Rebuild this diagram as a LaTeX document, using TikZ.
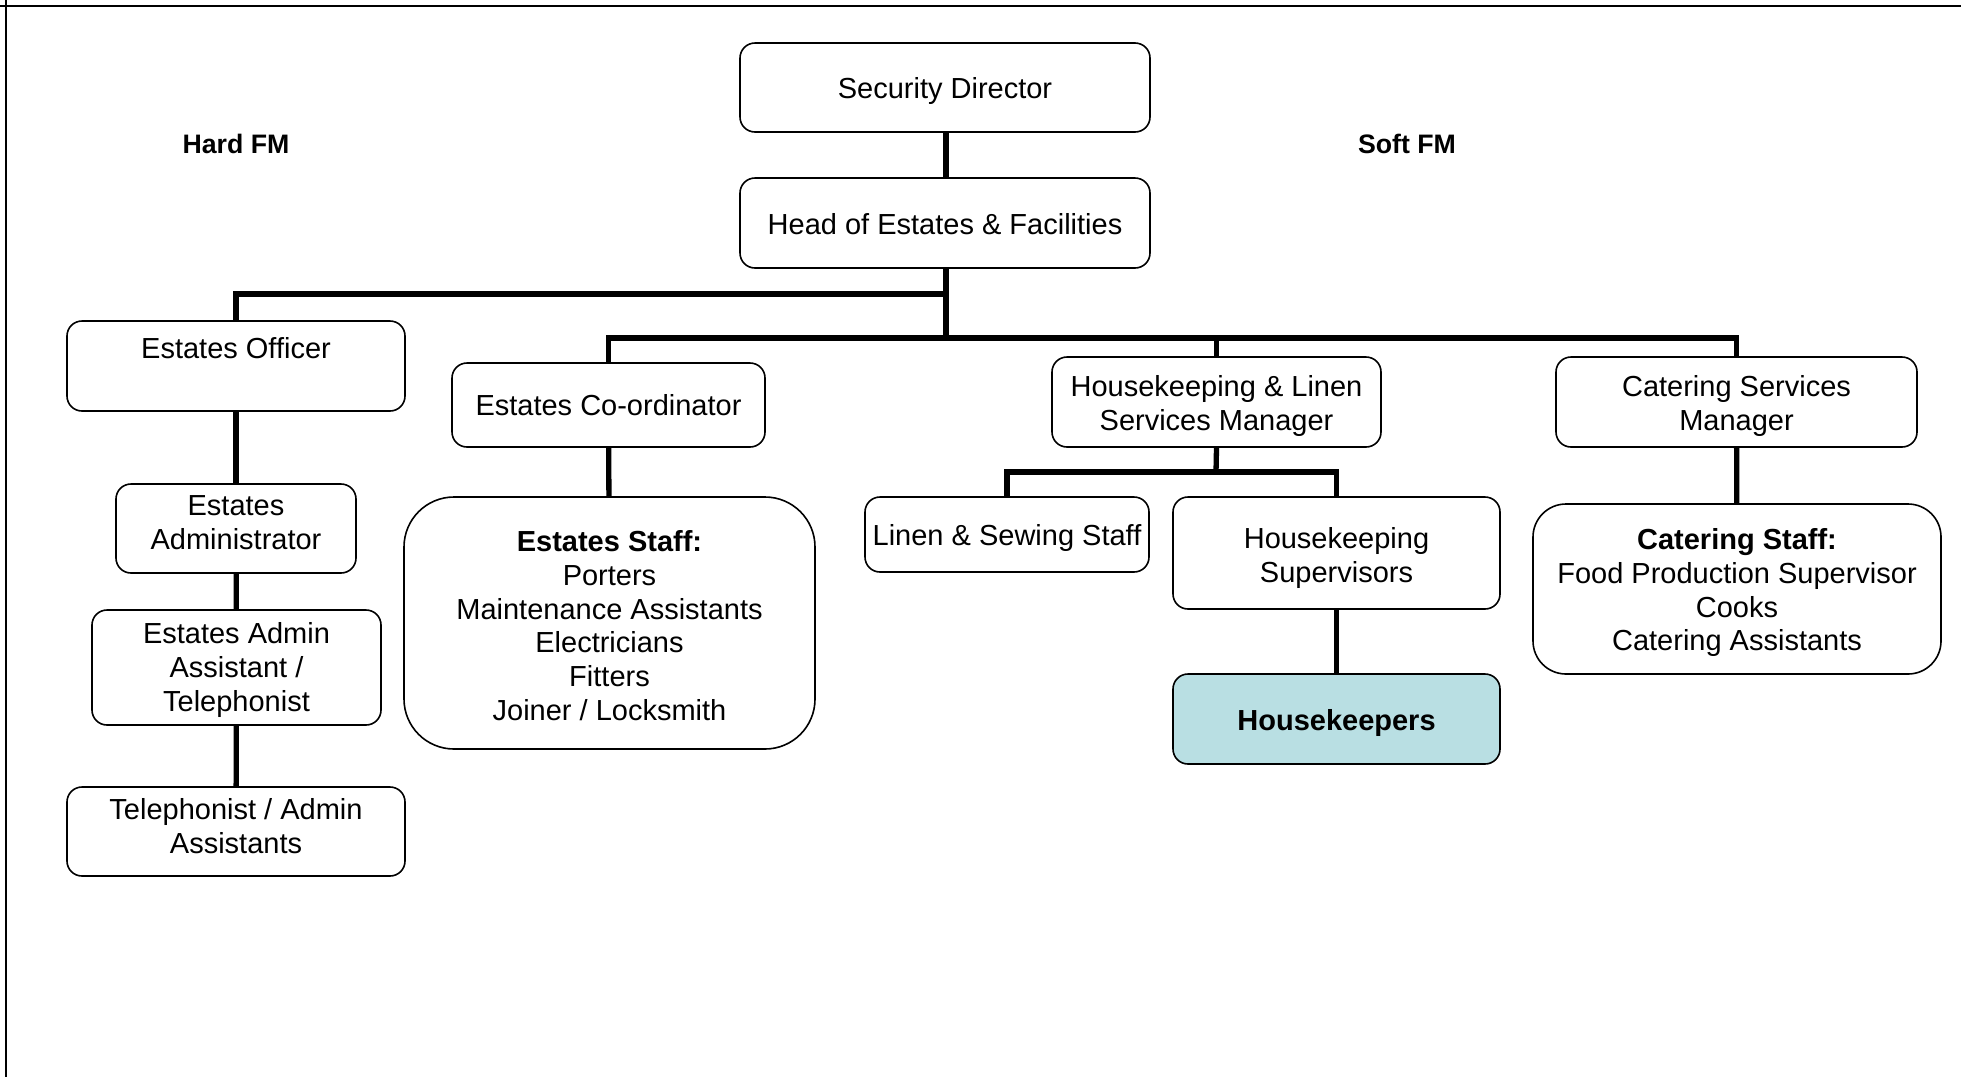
\documentclass[tikz,border=0pt]{standalone}
\usepackage{fontspec}
\setmainfont{Liberation Sans}
\usepackage{tikz}
\usetikzlibrary{positioning, calc}
\usepackage{xcolor}
\definecolor{hkblue}{RGB}{185,223,227}

\begin{document}
\begin{tikzpicture}[x=1pt, y=-1pt,
    box/.style={draw, line width=1.6pt, rounded corners=15pt, align=center, inner sep=2pt,
      font=\fontsize{29}{33.8}\selectfont},
    sz/.style 2 args={minimum width=#1, minimum height=#2},
    link/.style={line width=5.3pt},
    side/.style={font=\fontsize{26.7}{31}\selectfont\bfseries}]
  \useasboundingbox (0,0) rectangle (1961,1077);
  \draw[line width=2.6pt] (0,6) -- (1961,6); \draw[line width=2.6pt] (6,0) -- (6,1077);

  % top of the tree
  \node[box, sz={410pt}{89pt}, text height=28.8pt] (sd) at (945,87.5) {Security Director};
  \node[box, sz={410pt}{90pt}, text height=23.8pt] (head) at (945,223) {Head of Estates \& Facilities};
  \node[side] (hard) at (236,144) {Hard FM};
  \node[side] (soft) at (1407,144) {Soft FM};

  % hard FM
  \node[box, sz={338pt}{90pt}, text depth=36pt] (officer) at (236,366) {Estates Officer};
  \node[box, sz={240pt}{89pt}, text depth=12pt] (admin) at (236,528.5) {Estates\\Administrator};
  \node[box, sz={289pt}{115pt}, text height=93.9pt] (adminasst) at (236.5,667.5) {Estates Admin\\Assistant /\\Telephonist};
  \node[box, sz={338pt}{89pt}, text depth=11pt] (tel) at (236,831.5) {Telephonist / Admin\\Assistants};
  \node[box, sz={313pt}{84pt}] (coord) at (608.5,405) {Estates Co-ordinator};
  \node[box, sz={411pt}{252pt}, rounded corners=50pt, text height=195.3pt] (estaff) at (609.5,623)
    {\textbf{Estates Staff:}\\Porters\\Maintenance Assistants\\Electricians\\Fitters\\Joiner / Locksmith};

  % soft FM
  \node[box, sz={329pt}{90pt}, text height=62.1pt] (hlmgr) at (1216.5,402) {Housekeeping \& Linen\\Services Manager};
  \node[box, sz={361pt}{90pt}, text height=62.1pt] (catmgr) at (1736.5,402) {Catering Services\\Manager};
  \node[box, sz={284pt}{75pt}, text height=28.3pt] (linen) at (1007,534.5) {Linen \& Sewing Staff};
  \node[box, sz={327pt}{112pt}, text height=64.1pt] (hksup) at (1336.5,553) {Housekeeping\\Supervisors};
  \node[box, sz={327pt}{90pt}, fill=hkblue, text height=28.3pt] (hk) at (1336.5,719) {\textbf{Housekeepers}};
  \node[box, sz={408pt}{170pt}, rounded corners=33pt, text height=129.7pt] (cstaff) at (1737,589)
    {\textbf{Catering Staff:}\\Food Production Supervisor\\Cooks\\Catering Assistants};

  % connectors
  \coordinate (bus1) at (946,294);
  \coordinate (bus2) at (946,338);
  \coordinate (hlbus) at (1216,472);
  \draw[link] (sd.south -| bus1) -- (head.north -| bus1);
  \draw[link] (head.south -| bus2) -- (bus2);
  \draw[link] (officer.north) |- (bus1);
  \draw[link] (coord.north) |- (bus2) -| (catmgr.north);
  \draw[link] (hlmgr.north) -- (hlmgr.north |- bus2);
  \draw[link] (officer) -- (admin);
  \draw[link] (admin) -- (adminasst);
  \draw[link] (adminasst) -- (tel);
  \draw[link] (coord) -- (estaff);
  \draw[link] (hlmgr.south) -- (hlbus);
  \draw[link] (linen.north) |- (hlbus) -| (hksup.north);
  \draw[link] (hksup) -- (hk);
  \draw[link] (catmgr) -- (cstaff);
\end{tikzpicture}
\end{document}
